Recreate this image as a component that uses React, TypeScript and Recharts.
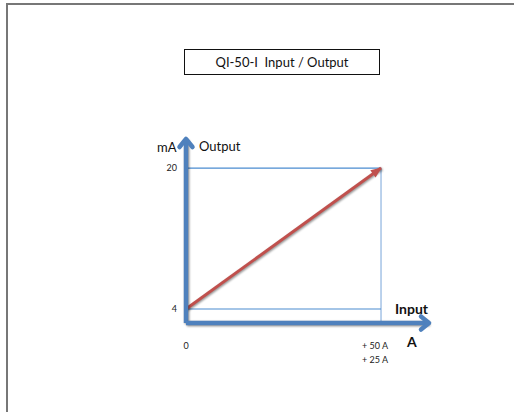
import { LineChart, Line, XAxis, YAxis, ReferenceLine } from 'recharts';

// transfer curve: input (A) -> output (mA)
const inputValues = [0, 50];
const outputValues = [4, 20];

const xTicks = [0, 50];
const xTickLines = [['0'], ['+ 50 A', '+ 25 A']];
const yTicks = [4, 20];

// axis extents (the arrows run a bit past the data)
const X_MAX = 62.3;
const Y_MIN = 2.41;
const Y_MAX = 23.3;

const outputData = inputValues.map((x, i) => ({ x, y: outputValues[i] }));
const yAxisData = [
  { x: 0, y: Y_MIN },
  { x: 0, y: Y_MAX },
];
const xAxisData = [
  { x: 0, y: Y_MIN },
  { x: X_MAX, y: Y_MIN },
];

const AXIS_BLUE = '#4f81bd';
const GRID_BLUE = '#4a8bd0';
const LIGHT_BLUE = '#a5c3e6';
const RED = '#c0504d';
const FONT = "Lato, 'Open Sans', sans-serif";

const arrowDot =
  (color: string, open: boolean, fallbackDeg: number) =>
  (props: any) => {
    const { cx, cy, index } = props;
    const points = props.points ?? [];
    const last = points.length ? points.length - 1 : 1;
    if (index !== last) return <g key={`d-${index}`} />;
    let deg = fallbackDeg;
    if (points.length > 1) {
      const prev = points[index - 1];
      deg = (Math.atan2(cy - prev.y, cx - prev.x) * 180) / Math.PI;
    }
    const t = `rotate(${deg} ${cx} ${cy})`;
    if (open) {
      return (
        <polyline
          key={`d-${index}`}
          points={`${cx - 8},${cy - 6.5} ${cx},${cy} ${cx - 8},${cy + 6.5}`}
          fill="none"
          stroke={color}
          strokeWidth={4.5}
          strokeLinejoin="round"
          strokeLinecap="round"
          transform={t}
        />
      );
    }
    return (
      <polygon
        key={`d-${index}`}
        points={`${cx - 10},${cy - 4.5} ${cx + 1},${cy} ${cx - 10},${cy + 4.5}`}
        fill={color}
        transform={t}
      />
    );
  };

const XTick = (props: any) => {
  const { x, y, payload } = props;
  const i = xTicks.indexOf(payload.value);
  const lines = xTickLines[i] ?? [String(payload.value)];
  return (
    <g>
      {lines.map((l, k) => (
        <text
          key={k}
          x={i === 0 ? x : x - 6}
          y={y + 26 + k * 14}
          textAnchor="middle"
          fontSize={9}
          fill="#222"
          fontFamily={FONT}
        >
          {l}
        </text>
      ))}
    </g>
  );
};

const textStyle = {
  position: 'absolute' as const,
  fontFamily: FONT,
  color: '#111',
  whiteSpace: 'pre' as const,
  lineHeight: 1,
};

export default function App() {
  return (
    <div
      style={{
        position: 'absolute',
        left: 0,
        top: 0,
        width: 514,
        height: 412,
        overflow: 'hidden',
        background: '#fff',
      }}
    >
      <style>{`.shadowed { filter: drop-shadow(1.5px 1.5px 1.2px rgba(0,0,0,0.45)); }`}</style>
      <div
        style={{
          position: 'absolute',
          left: 6,
          top: 3,
          width: 560,
          height: 460,
          borderTop: '2px solid #777',
          borderLeft: '2px solid #777',
        }}
      />
      <div
        style={{
          ...textStyle,
          left: 184,
          top: 49,
          width: 194,
          height: 24,
          border: '1.5px solid #111',
          fontSize: 13,
          display: 'flex',
          alignItems: 'center',
          justifyContent: 'center',
        }}
      >
        {'QI-50-I  Input / Output'}
      </div>
      <div style={{ position: 'absolute', left: 0, top: 0 }}>
        <LineChart width={514} height={412} margin={{ top: 139, left: 156, right: 85, bottom: 49 }}>
          <XAxis
            type="number"
            dataKey="x"
            domain={[0, X_MAX]}
            ticks={xTicks}
            height={40}
            axisLine={false}
            tickLine={false}
            tickSize={0}
            tickMargin={0}
            tick={<XTick />}
            interval={0}
          />
          <YAxis
            type="number"
            dataKey="y"
            domain={[Y_MIN, Y_MAX]}
            ticks={yTicks}
            width={30}
            axisLine={false}
            tickLine={false}
            tickSize={0}
            tickMargin={9}
            interval={0}
            tick={{ fontSize: 9, fill: '#222', fontFamily: FONT }}
          />
          <ReferenceLine
            segment={[
              { x: 50, y: Y_MIN },
              { x: 50, y: 20 },
            ]}
            stroke={LIGHT_BLUE}
            strokeWidth={1.5}
          />
          <ReferenceLine
            segment={[
              { x: 0, y: 20 },
              { x: 50, y: 20 },
            ]}
            stroke={GRID_BLUE}
            strokeWidth={1.2}
          />
          <ReferenceLine
            segment={[
              { x: 0, y: 4 },
              { x: 50, y: 4 },
            ]}
            stroke={GRID_BLUE}
            strokeWidth={1.2}
          />
          <Line
            data={outputData}
            dataKey="y"
            type="linear"
            stroke={RED}
            strokeWidth={3}
            className="shadowed"
            dot={arrowDot(RED, false, -35.9)}
            activeDot={false}
            isAnimationActive={false}
          />
          <Line
            data={yAxisData}
            dataKey="y"
            type="linear"
            stroke={AXIS_BLUE}
            strokeWidth={4.5}
            className="shadowed"
            dot={arrowDot(AXIS_BLUE, true, -90)}
            activeDot={false}
            isAnimationActive={false}
          />
          <Line
            data={xAxisData}
            dataKey="y"
            type="linear"
            stroke={AXIS_BLUE}
            strokeWidth={4.5}
            className="shadowed"
            dot={arrowDot(AXIS_BLUE, true, 0)}
            activeDot={false}
            isAnimationActive={false}
          />
        </LineChart>
      </div>
      <span style={{ ...textStyle, left: 157, top: 141, fontSize: 13 }}>mA</span>
      <span style={{ ...textStyle, left: 199, top: 140, fontSize: 13 }}>Output</span>
      <span style={{ ...textStyle, left: 395, top: 302, fontSize: 14, fontWeight: 700 }}>Input</span>
      <span style={{ ...textStyle, left: 407, top: 335, fontSize: 14, fontWeight: 700 }}>A</span>
    </div>
  );
}
